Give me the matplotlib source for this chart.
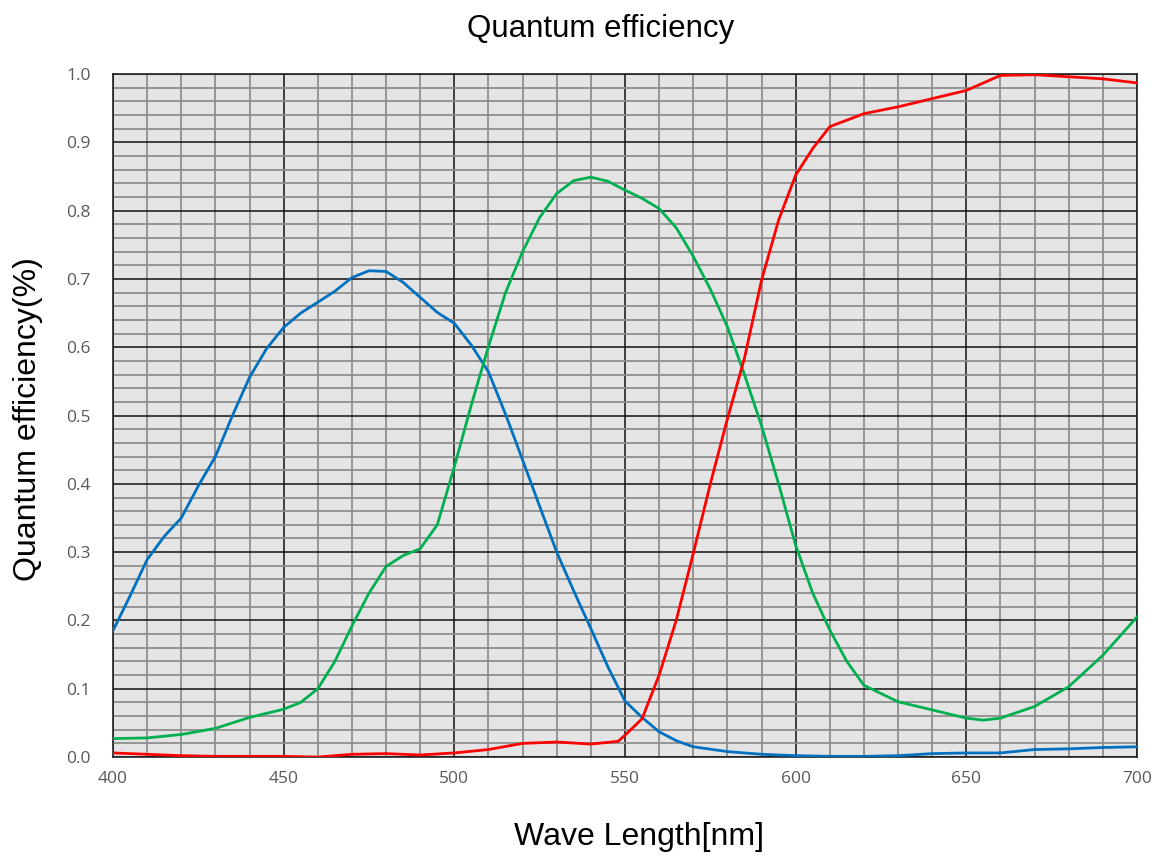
import numpy as np
import matplotlib
matplotlib.use("Agg")
import matplotlib.pyplot as plt
from matplotlib.ticker import MultipleLocator, FormatStrFormatter

# wavelengths (nm) and values
wl_blue = [400, 405, 410, 415, 420, 425, 430, 435, 440, 445, 450, 455, 460, 465, 470,
           475, 480, 485, 490, 495, 500, 505, 510, 515, 520, 525, 530, 535, 540, 545,
           550, 555, 560, 565, 570, 580, 590, 600, 610, 620, 630, 640, 650, 660, 670,
           680, 690, 700]
blue = [0.185, 0.236, 0.289, 0.323, 0.350, 0.397, 0.440, 0.500, 0.556, 0.598, 0.629,
        0.650, 0.666, 0.682, 0.702, 0.712, 0.711, 0.695, 0.673, 0.651, 0.635, 0.603,
        0.564, 0.502, 0.435, 0.367, 0.300, 0.243, 0.188, 0.132, 0.082, 0.058, 0.037,
        0.024, 0.015, 0.008, 0.004, 0.002, 0.001, 0.001, 0.002, 0.005, 0.006, 0.006,
        0.011, 0.012, 0.014, 0.015]

wl_green = [400, 410, 420, 430, 440, 445, 450, 455, 460, 465, 470, 475, 480, 485, 490,
            495, 500, 505, 510, 515, 520, 525, 530, 535, 540, 545, 550, 555, 560, 565,
            570, 575, 580, 585, 590, 595, 600, 605, 610, 615, 620, 630, 640, 650, 655,
            660, 670, 680, 690, 700]
green = [0.027, 0.028, 0.033, 0.042, 0.058, 0.064, 0.070, 0.080, 0.100, 0.140, 0.192,
         0.240, 0.279, 0.295, 0.305, 0.340, 0.425, 0.516, 0.601, 0.680, 0.740, 0.790,
         0.825, 0.844, 0.849, 0.843, 0.830, 0.818, 0.803, 0.775, 0.733, 0.685, 0.630,
         0.560, 0.485, 0.400, 0.310, 0.240, 0.186, 0.140, 0.105, 0.081, 0.069, 0.057,
         0.054, 0.057, 0.074, 0.103, 0.149, 0.205]

wl_red = [400, 410, 420, 430, 440, 450, 460, 470, 480, 490, 500, 510, 520, 530, 540,
          548, 550, 555, 560, 565, 570, 575, 580, 585, 590, 595, 600, 605, 610, 620,
          630, 640, 650, 660, 670, 680, 690, 700]
red = [0.006, 0.004, 0.002, 0.001, 0.001, 0.001, 0.000, 0.004, 0.005, 0.003, 0.006,
       0.011, 0.020, 0.022, 0.019, 0.023, 0.032, 0.056, 0.120, 0.200, 0.298, 0.400,
       0.495, 0.584, 0.698, 0.786, 0.852, 0.891, 0.923, 0.942, 0.952, 0.964, 0.976,
       0.998, 0.999, 0.996, 0.993, 0.987]

fig = plt.figure(figsize=(11.59, 8.59), dpi=100)
ax = fig.add_axes([0.0975, 0.1187, 0.8835, 0.7951])
ax.set_facecolor("#e4e4e4")

ax.plot(wl_blue, blue, color="#0070C0", lw=2.0, zorder=5, solid_joinstyle="round")
ax.plot(wl_green, green, color="#00B050", lw=2.0, zorder=5, solid_joinstyle="round")
ax.plot(wl_red, red, color="#FF0000", lw=2.0, zorder=5, solid_joinstyle="round")

ax.set_xlim(400, 700)
ax.set_ylim(0, 1.0)
ax.xaxis.set_major_locator(MultipleLocator(50))
ax.xaxis.set_minor_locator(MultipleLocator(10))
ax.yaxis.set_major_locator(MultipleLocator(0.1))
ax.yaxis.set_minor_locator(MultipleLocator(0.02))
ax.yaxis.set_major_formatter(FormatStrFormatter("%.1f"))

ax.grid(which="minor", color="#8e8e8e", lw=1.3, zorder=1)
ax.grid(which="major", color="#111111", lw=1.1, zorder=2)
ax.set_axisbelow(True)
for s in ax.spines.values():
    s.set_color("#222222")
    s.set_linewidth(1.2)

ax.tick_params(which="both", length=0, labelcolor="#595959", labelsize=12.5)
ax.tick_params(axis="x", pad=10)
ax.tick_params(axis="y", pad=16)
for lab in ax.get_xticklabels() + ax.get_yticklabels():
    lab.set_family("Open Sans")

fig.text(0.518, 0.966, "Quantum efficiency", ha="center", va="center", fontsize=22.5,
         family="Liberation Sans")
fig.text(0.024, 0.512, "Quantum efficiency(%)", ha="center", va="center", fontsize=23,
         rotation=90, family="Liberation Sans")
fig.text(0.551, 0.026, "Wave Length[nm]", ha="center", va="center", fontsize=23,
         family="Liberation Sans")

fig.savefig("out.png", dpi=100)
